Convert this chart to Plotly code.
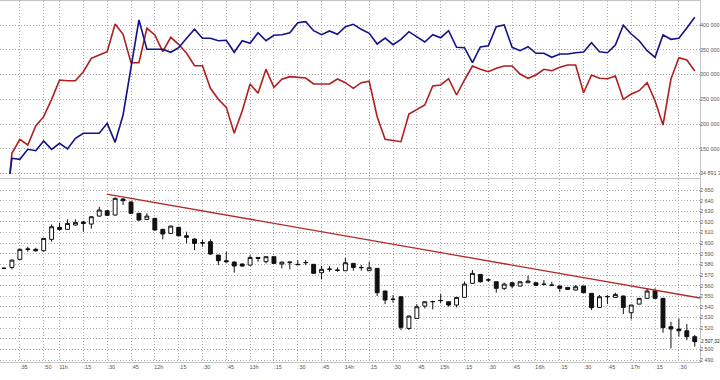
import pandas as pd
import plotly.graph_objects as go

# ---------------- data ----------------
candle_times = pd.date_range("2024-01-02 10:25", periods=88, freq="5min")

opens = [2576.3, 2577.2, 2584.8, 2594.2, 2594.2, 2592.9, 2603.6, 2614.9, 2613.0, 2617.1,
         2619.9, 2618.0, 2625.5, 2630.5, 2626.5, 2641.5, 2638.7, 2628.1, 2622.4, 2623.3,
         2613.0, 2609.2, 2614.9, 2607.0, 2603.9, 2600.4, 2601.4, 2588.8, 2583.5, 2582.2,
         2580.4, 2579.4, 2586.6, 2582.6, 2587.3, 2580.4, 2581.6, 2579.7, 2581.6, 2580.1,
         2572.2, 2575.4, 2574.7, 2574.1, 2581.0, 2577.2, 2574.1, 2576.3, 2555.0, 2547.1,
         2549.6, 2519.8, 2529.2, 2540.8, 2544.9, 2545.9, 2544.9, 2541.8, 2549.0, 2562.2,
         2570.6, 2565.3, 2563.7, 2557.5, 2562.8, 2559.7, 2562.8, 2562.8, 2561.2, 2560.6,
         2559.7, 2558.4, 2555.9, 2559.7, 2552.8, 2539.6, 2549.6, 2549.0, 2550.3, 2534.6,
         2542.7, 2548.1, 2555.3, 2548.1, 2521.4, 2519.2, 2517.6, 2512.0]
highs = [2577.0, 2584.5, 2595.0, 2596.7, 2595.7, 2605.0, 2617.7, 2619.3, 2622.4, 2622.4,
         2621.0, 2625.5, 2634.3, 2631.0, 2643.0, 2642.5, 2639.5, 2628.5, 2628.1, 2624.0,
         2613.5, 2616.5, 2615.5, 2610.8, 2604.5, 2603.0, 2603.6, 2589.0, 2592.0, 2583.0,
         2581.0, 2588.8, 2586.8, 2587.5, 2587.5, 2582.5, 2582.4, 2584.1, 2584.1, 2580.5,
         2578.5, 2578.5, 2577.2, 2586.3, 2581.3, 2579.4, 2582.6, 2576.5, 2555.3, 2551.2,
         2550.0, 2532.0, 2542.7, 2545.3, 2545.9, 2552.1, 2545.2, 2549.3, 2563.7, 2574.7,
         2571.0, 2566.9, 2564.0, 2562.8, 2563.0, 2564.0, 2569.4, 2563.0, 2565.3, 2563.7,
         2560.0, 2558.7, 2560.6, 2560.0, 2553.0, 2551.2, 2551.2, 2553.4, 2550.6, 2542.0,
         2548.4, 2557.5, 2557.5, 2548.4, 2526.1, 2529.2, 2523.9, 2513.6]
lows = [2575.5, 2575.4, 2584.0, 2592.0, 2592.0, 2592.0, 2601.4, 2611.7, 2612.5, 2616.5,
        2610.8, 2613.6, 2625.0, 2625.5, 2626.0, 2635.9, 2627.5, 2621.0, 2622.0, 2612.0,
        2603.6, 2608.5, 2606.5, 2599.8, 2593.5, 2596.7, 2589.0, 2579.4, 2581.6, 2572.2,
        2578.0, 2579.0, 2582.6, 2581.0, 2580.5, 2576.3, 2575.4, 2579.4, 2579.4, 2571.0,
        2565.9, 2573.1, 2573.1, 2573.8, 2574.1, 2574.1, 2573.8, 2550.3, 2542.7, 2544.0,
        2518.3, 2518.3, 2528.8, 2538.6, 2537.7, 2543.4, 2540.2, 2539.6, 2548.7, 2561.8,
        2563.0, 2563.7, 2553.4, 2555.9, 2557.5, 2559.4, 2562.5, 2560.0, 2560.3, 2559.7,
        2554.3, 2556.0, 2555.6, 2553.0, 2537.1, 2539.3, 2542.7, 2548.7, 2533.3, 2528.3,
        2542.4, 2547.8, 2547.8, 2515.7, 2501.0, 2512.0, 2508.8, 2502.6]
closes = [2576.4, 2584.1, 2594.2, 2594.5, 2592.9, 2604.5, 2615.5, 2613.0, 2618.6, 2619.6,
          2618.6, 2624.9, 2631.2, 2626.2, 2642.2, 2640.0, 2628.1, 2621.8, 2625.5, 2612.4,
          2608.6, 2616.1, 2607.0, 2605.5, 2599.8, 2600.2, 2589.8, 2583.5, 2582.6, 2578.5,
          2578.5, 2586.6, 2585.7, 2587.3, 2581.0, 2582.2, 2582.2, 2580.0, 2581.8, 2571.6,
          2575.4, 2575.6, 2574.5, 2581.6, 2577.2, 2577.0, 2576.9, 2553.4, 2546.5, 2547.3,
          2520.8, 2531.4, 2540.2, 2544.9, 2545.1, 2546.1, 2541.8, 2549.0, 2561.5, 2571.6,
          2563.7, 2565.5, 2557.5, 2561.5, 2559.7, 2563.7, 2564.4, 2560.3, 2561.4, 2560.4,
          2557.5, 2556.5, 2559.0, 2553.4, 2539.3, 2549.6, 2549.8, 2551.8, 2539.6, 2541.8,
          2548.1, 2555.0, 2548.1, 2520.5, 2519.2, 2517.6, 2512.0, 2507.32]

# indicator lines (first point just before 10:30, then every 5 minutes)
line_times = [pd.Timestamp("2024-01-02 10:28:45")] + list(candle_times[1:])
blue_values = [99000, 130700, 128700, 148900, 146100, 165700, 148900, 161000, 149500, 171100,
               181200, 181200, 181200, 201400, 163000, 218200, 315200, 410100, 350900, 350900,
               350900, 344900, 354100, 373100, 391300, 373100, 373100, 368300, 369100, 344900,
               368300, 363000, 384400, 368300, 379200, 380400, 384400, 404600, 406700, 388500,
               380400, 387900, 381200, 396600, 401400, 391300, 383200, 361600, 373700, 360200,
               371100, 386500, 376400, 365700, 380400, 374300, 388500, 355000, 354100, 323800,
               355600, 358200, 396600, 400000, 355000, 348100, 356200, 342800, 342800, 334800,
               341400, 341400, 344000, 345500, 364200, 346100, 344000, 359600, 399400, 381800,
               368300, 348100, 334800, 380000, 371100, 373100, 393900, 415600]
red_values = [99000, 140800, 169100, 157600, 196000, 214800, 249900, 288900, 287500, 287500,
              305700, 332700, 339400, 346100, 402000, 381200, 323800, 323800, 393300, 379800,
              346100, 375200, 361000, 342800, 317800, 317800, 272100, 249900, 233700, 181200,
              226300, 280800, 262000, 310500, 274200, 290300, 295600, 294400, 292900, 280800,
              280200, 280800, 290900, 283400, 272100, 283400, 286300, 214800, 169100, 166300,
              164300, 220200, 229700, 238400, 276800, 278800, 291500, 258600, 288900, 317200,
              310500, 305700, 312500, 317200, 317200, 301000, 292300, 299000, 310500, 307700,
              314600, 319200, 319200, 263200, 299000, 292300, 291500, 297000, 249900, 260600,
              267300, 283400, 247100, 198000, 290900, 333900, 329300, 307100]

# trend line
trend_times = [pd.Timestamp("2024-01-02 11:29:40"), pd.Timestamp("2024-01-02 17:43:20")]
trend_prices = [2646.2, 2548.4]

# axes
x_tick_times = pd.to_datetime(["2024-01-02 " + t for t in
    ["10:35", "10:50", "11:00", "11:15", "11:30", "11:45", "12:00", "12:15", "12:30", "12:45",
     "13:00", "13:15", "13:30", "13:45", "14:00", "14:15", "14:30", "14:45", "15:00", "15:15",
     "15:30", "15:45", "16:00", "16:15", "16:30", "16:45", "17:00", "17:15", "17:30"]])
x_tick_text = [":35", ":50", "11h", ":15", ":30", ":45", "12h", ":15", ":30", ":45",
               "13h", ":15", ":30", ":45", "14h", ":15", ":30", ":45", "15h", ":15",
               ":30", ":45", "16h", ":15", ":30", ":45", "17h", ":15", ":30"]
top_tick_vals = [100000, 150000, 200000, 250000, 300000, 350000, 400000]
top_tick_text = ["34 891 3", "150 000", "200 000", "250 000", "300 000", "350 000", "400 000"]
price_tick_vals = [2490, 2500, 2510, 2520, 2530, 2540, 2550, 2560, 2570, 2580,
                   2590, 2600, 2610, 2620, 2630, 2640, 2650]
price_tick_text = ["2 490", "2 500", "", "2 520", "2 530", "2 540", "2 550", "2 560", "2 570",
                   "2 580", "2 590", "2 600", "2 610", "2 620", "2 630", "2 640", "2 650"]
last_price_label = "2 507,32"

# ---------------- figure ----------------
FONT = "Liberation Sans, Arial, sans-serif"

fig = go.Figure()
fig.add_trace(go.Scatter(x=line_times, y=red_values, mode="lines",
                         line=dict(color="#b01e1e", width=1.6), xaxis="x", yaxis="y"))
fig.add_trace(go.Scatter(x=line_times, y=blue_values, mode="lines",
                         line=dict(color="#12128a", width=1.6), xaxis="x", yaxis="y"))
fig.add_trace(go.Candlestick(x=candle_times, open=opens, high=highs, low=lows, close=closes,
                             increasing=dict(fillcolor="white", line=dict(color="#111111", width=1)),
                             decreasing=dict(fillcolor="#111111", line=dict(color="#111111", width=1)),
                             whiskerwidth=0, xaxis="x2", yaxis="y2"))
fig.add_trace(go.Scatter(x=trend_times, y=trend_prices, mode="lines",
                         line=dict(color="#b52a2a", width=1.3), xaxis="x2", yaxis="y2"))

xr = [pd.Timestamp("2024-01-02 10:22:30"), pd.Timestamp("2024-01-02 17:43:18")]
grid = dict(showgrid=True, gridcolor="#a8a8a8", griddash="1px,2px", gridwidth=1)
ytickfont = dict(family=FONT, size=5.4, color="#555555")
xtickfont = dict(family=FONT, size=5.5, color="#555555")

H = 362.0
fig.update_layout(
    width=720, height=380,
    margin=dict(l=0, r=20, t=0, b=18, autoexpand=False),
    paper_bgcolor="white", plot_bgcolor="white",
    showlegend=False,
    xaxis=dict(domain=[0, 1], anchor="y", range=xr, tickvals=x_tick_times, ticktext=x_tick_text,
               showticklabels=False, ticks="", showline=True, linecolor="#c4c4c4", mirror=True,
               automargin=False, rangeslider=dict(visible=False), **grid),
    xaxis2=dict(domain=[0, 1], anchor="y2", range=xr, matches="x", tickvals=x_tick_times,
                ticktext=x_tick_text, ticks="", showline=True, linecolor="#c4c4c4", mirror=True,
                tickangle=0, ticklabelshift=4, ticklabelstandoff=-1, automargin=False,
                tickfont=xtickfont, rangeslider=dict(visible=False), **grid),
    yaxis=dict(domain=[1 - 178 / H, 1 - 1 / H], anchor="x", side="right",
               range=[90940, 448480], tickvals=top_tick_vals, ticktext=top_tick_text,
               tickfont=ytickfont, ticks="", ticklabelstandoff=-2, showline=True,
               linecolor="#c4c4c4", mirror=True, zeroline=False, automargin=False, **grid),
    yaxis2=dict(domain=[0, 1 - 179 / H], anchor="x2", side="right",
                range=[2488.2, 2660.4], tickvals=price_tick_vals, ticktext=price_tick_text,
                tickfont=ytickfont, ticks="", ticklabelstandoff=-2, showline=True,
                linecolor="#c4c4c4", mirror=True, zeroline=False, automargin=False, **grid),
)

fig.add_annotation(x=1, xref="paper", xanchor="left", xshift=0, y=closes[-1], yref="y2",
                   text=last_price_label, showarrow=False, bgcolor="white",
                   font=dict(family=FONT, size=4.8, color="#222222"), borderpad=0)

fig.write_html("out.html", config={"displayModeBar": False},
               post_script="document.body.style.margin='0px';document.body.style.padding='0px';")
